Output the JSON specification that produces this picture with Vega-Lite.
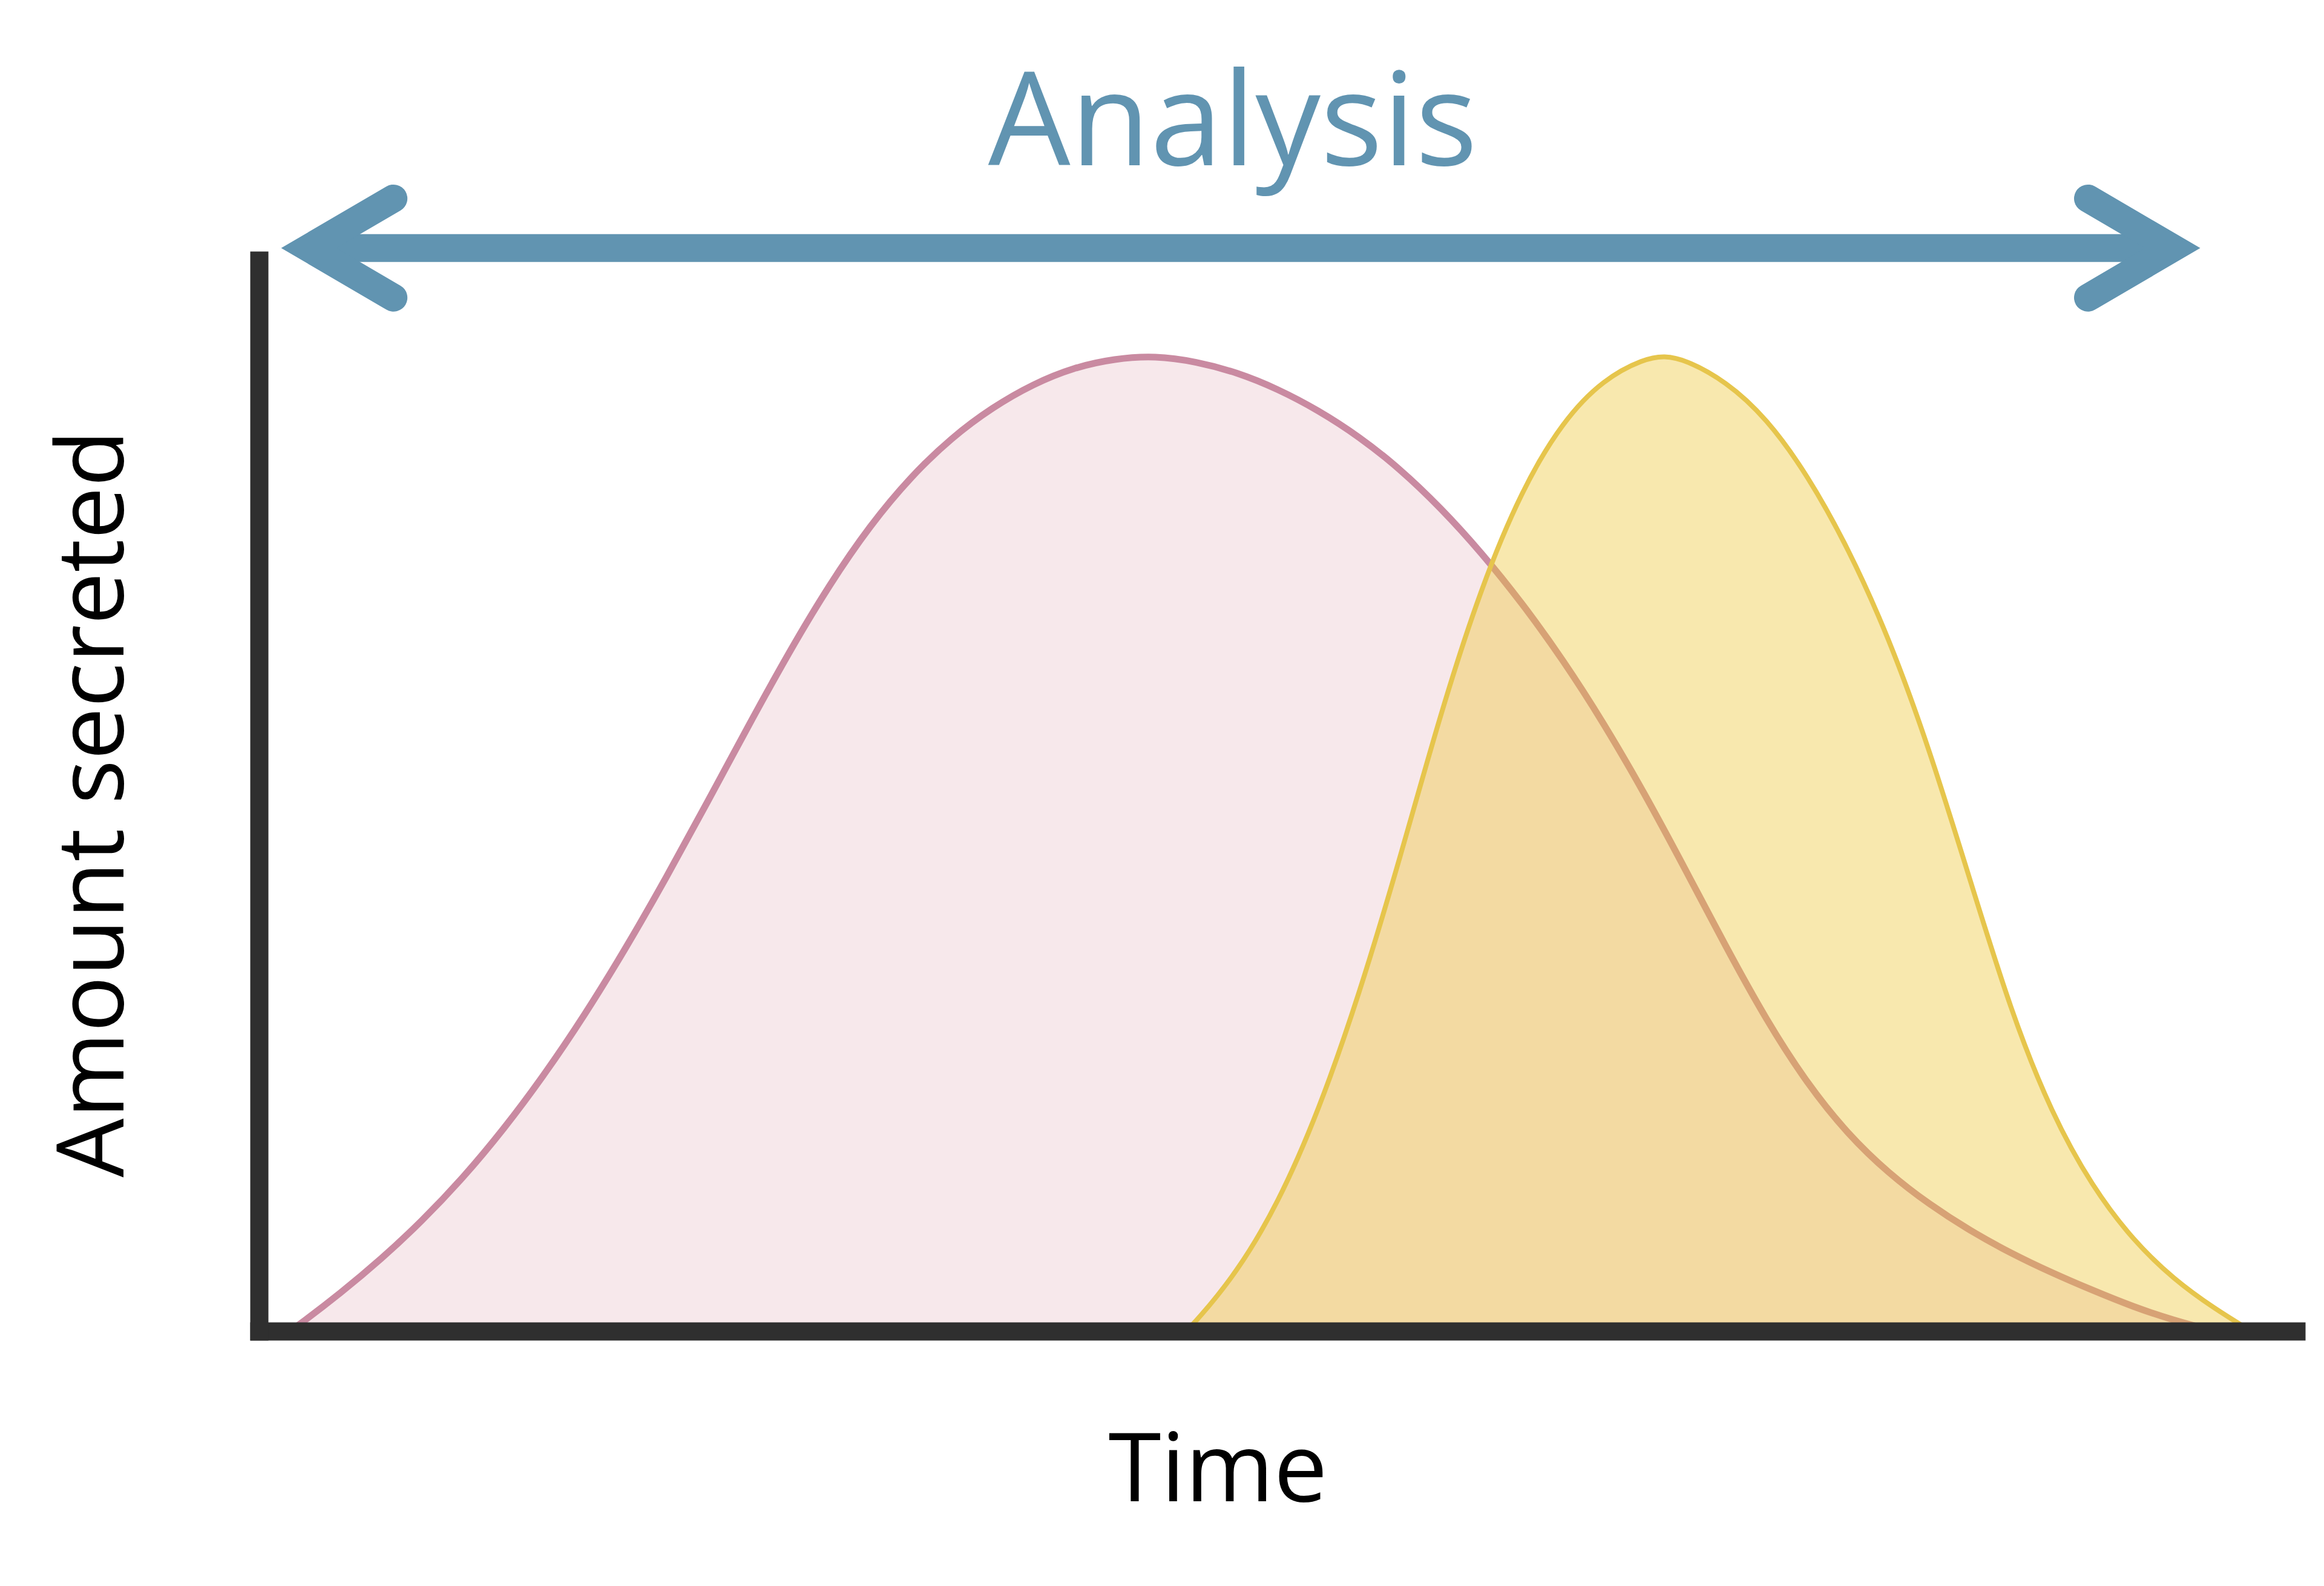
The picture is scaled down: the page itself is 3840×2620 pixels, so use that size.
{
  "$schema": "https://vega.github.io/schema/vega-lite/v6.json",
  "width": 3366,
  "height": 1769,
  "autosize": {"type": "none"},
  "padding": {"left": 428, "top": 430, "right": 46, "bottom": 421},
  "background": "white",
  "config": {"view": {"stroke": null}, "font": "Open Sans"},
  "datasets": {
    "curves": [
      {"series": "A", "t": 1.5, "amt": 0},
      {"series": "A", "t": 2, "amt": 0.7},
      {"series": "A", "t": 4, "amt": 3.9},
      {"series": "A", "t": 6, "amt": 7.4},
      {"series": "A", "t": 8, "amt": 11.3},
      {"series": "A", "t": 10, "amt": 15.7},
      {"series": "A", "t": 12, "amt": 20.7},
      {"series": "A", "t": 14, "amt": 26.3},
      {"series": "A", "t": 16, "amt": 32.5},
      {"series": "A", "t": 18, "amt": 39.3},
      {"series": "A", "t": 20, "amt": 46.6},
      {"series": "A", "t": 22, "amt": 54.3},
      {"series": "A", "t": 24, "amt": 62.1},
      {"series": "A", "t": 26, "amt": 69.7},
      {"series": "A", "t": 28, "amt": 76.7},
      {"series": "A", "t": 30, "amt": 82.8},
      {"series": "A", "t": 32, "amt": 87.8},
      {"series": "A", "t": 34, "amt": 91.8},
      {"series": "A", "t": 36, "amt": 94.9},
      {"series": "A", "t": 38, "amt": 97.3},
      {"series": "A", "t": 40, "amt": 99.0},
      {"series": "A", "t": 42, "amt": 99.9},
      {"series": "A", "t": 44, "amt": 100.2},
      {"series": "A", "t": 46, "amt": 99.6},
      {"series": "A", "t": 48, "amt": 98.5},
      {"series": "A", "t": 50, "amt": 96.8},
      {"series": "A", "t": 52, "amt": 94.6},
      {"series": "A", "t": 54, "amt": 91.9},
      {"series": "A", "t": 56, "amt": 88.6},
      {"series": "A", "t": 58, "amt": 84.6},
      {"series": "A", "t": 60, "amt": 80.0},
      {"series": "A", "t": 62, "amt": 74.8},
      {"series": "A", "t": 64, "amt": 69.0},
      {"series": "A", "t": 66, "amt": 62.5},
      {"series": "A", "t": 68, "amt": 55.3},
      {"series": "A", "t": 70, "amt": 47.5},
      {"series": "A", "t": 72, "amt": 39.5},
      {"series": "A", "t": 74, "amt": 31.9},
      {"series": "A", "t": 76, "amt": 25.4},
      {"series": "A", "t": 78, "amt": 20.2},
      {"series": "A", "t": 80, "amt": 16.2},
      {"series": "A", "t": 82, "amt": 13.0},
      {"series": "A", "t": 84, "amt": 10.3},
      {"series": "A", "t": 86, "amt": 8.0},
      {"series": "A", "t": 88, "amt": 6.0},
      {"series": "A", "t": 90, "amt": 4.2},
      {"series": "A", "t": 92, "amt": 2.5},
      {"series": "A", "t": 94, "amt": 1.1},
      {"series": "A", "t": 96, "amt": 0},
      {"series": "B", "t": 45.5, "amt": 0},
      {"series": "B", "t": 46, "amt": 1.0},
      {"series": "B", "t": 48, "amt": 6.0},
      {"series": "B", "t": 50, "amt": 13.0},
      {"series": "B", "t": 52, "amt": 22.5},
      {"series": "B", "t": 54, "amt": 34.5},
      {"series": "B", "t": 56, "amt": 48.5},
      {"series": "B", "t": 58, "amt": 63.5},
      {"series": "B", "t": 60, "amt": 76.5},
      {"series": "B", "t": 62, "amt": 86.5},
      {"series": "B", "t": 64, "amt": 93.5},
      {"series": "B", "t": 66, "amt": 97.8},
      {"series": "B", "t": 68, "amt": 99.9},
      {"series": "B", "t": 69, "amt": 100.2},
      {"series": "B", "t": 70, "amt": 99.8},
      {"series": "B", "t": 72, "amt": 97.6},
      {"series": "B", "t": 74, "amt": 93.8},
      {"series": "B", "t": 76, "amt": 88.0},
      {"series": "B", "t": 78, "amt": 80.5},
      {"series": "B", "t": 80, "amt": 71.3},
      {"series": "B", "t": 82, "amt": 59.8},
      {"series": "B", "t": 84, "amt": 46.3},
      {"series": "B", "t": 86, "amt": 32.8},
      {"series": "B", "t": 88, "amt": 22.3},
      {"series": "B", "t": 90, "amt": 14.8},
      {"series": "B", "t": 92, "amt": 9.3},
      {"series": "B", "t": 94, "amt": 5.3},
      {"series": "B", "t": 96, "amt": 2.3},
      {"series": "B", "t": 97.8, "amt": 0}
    ],
    "span": [
      {"t": 2.44, "t_end": 93.94, "amt": 111.26, "label": "Analysis"}
    ],
    "heads": [
      {"end": "start", "o": 0, "t": 6.6, "amt": 116.35},
      {"end": "start", "o": 1, "t": 2.44, "amt": 111.26},
      {"end": "start", "o": 2, "t": 6.6, "amt": 106.16},
      {"end": "finish", "o": 0, "t": 89.78, "amt": 116.35},
      {"end": "finish", "o": 1, "t": 93.94, "amt": 111.26},
      {"end": "finish", "o": 2, "t": 89.78, "amt": 106.16}
    ]
  },
  "encoding": {
    "x": {
      "field": "t",
      "type": "quantitative",
      "scale": {"domain": [0, 100], "nice": false, "zero": false},
      "axis": {
        "title": "Time",
        "labels": false,
        "ticks": false,
        "grid": false,
        "domain": true,
        "domainColor": "#2f2f2f",
        "domainWidth": 30,
        "domainCap": "square",
        "zindex": 2,
        "titleFont": "Open Sans",
        "titleFontSize": 158,
        "titleFontWeight": "normal",
        "titleColor": "#000000",
        "titleX": 1584,
        "titleY": 280,
        "titleAlign": "center",
        "titleBaseline": "alphabetic"
      }
    },
    "y": {
      "field": "amt",
      "type": "quantitative",
      "scale": {"domain": [0, 110], "nice": false, "zero": true},
      "axis": {
        "title": "Amount secreted",
        "labels": false,
        "ticks": false,
        "grid": false,
        "domain": true,
        "domainColor": "#2f2f2f",
        "domainWidth": 30,
        "domainCap": "square",
        "zindex": 2,
        "titleFont": "Open Sans",
        "titleFontSize": 154,
        "titleFontWeight": "normal",
        "titleColor": "#000000",
        "titleAngle": 270,
        "titleX": -225,
        "titleY": 897,
        "titleAlign": "center",
        "titleBaseline": "alphabetic"
      }
    }
  },
  "layer": [
    {
      "data": {"name": "curves"},
      "transform": [{"filter": "datum.series === 'A'"}],
      "mark": {"type": "area", "interpolate": "basis", "color": "#f7e8eb", "opacity": 1}
    },
    {
      "data": {"name": "curves"},
      "transform": [{"filter": "datum.series === 'A'"}],
      "mark": {"type": "line", "interpolate": "basis", "color": "#c98aa1", "strokeWidth": 11}
    },
    {
      "data": {"name": "curves"},
      "transform": [{"filter": "datum.series === 'B'"}],
      "mark": {"type": "area", "interpolate": "basis", "color": "#eec535", "opacity": 0.4}
    },
    {
      "data": {"name": "curves"},
      "transform": [{"filter": "datum.series === 'B'"}],
      "mark": {"type": "line", "interpolate": "basis", "color": "#e6c54c", "strokeWidth": 8}
    },
    {
      "data": {"name": "span"},
      "mark": {"type": "rule", "color": "#6194b1", "strokeWidth": 46, "strokeCap": "butt"},
      "encoding": {"x2": {"field": "t_end"}}
    },
    {
      "data": {"name": "heads"},
      "mark": {"type": "line", "color": "#6194b1", "strokeWidth": 46, "strokeCap": "round", "strokeJoin": "miter", "strokeMiterLimit": 10},
      "encoding": {
        "detail": {"field": "end", "type": "nominal"},
        "order": {"field": "o", "type": "quantitative"}
      }
    },
    {
      "data": {"name": "span"},
      "mark": {"type": "text", "font": "Open Sans", "fontSize": 215, "color": "#6194b1", "align": "center", "baseline": "alphabetic"},
      "encoding": {
        "text": {"field": "label"},
        "x": {"datum": 47.8},
        "y": {"datum": 119.78}
      }
    }
  ]
}
